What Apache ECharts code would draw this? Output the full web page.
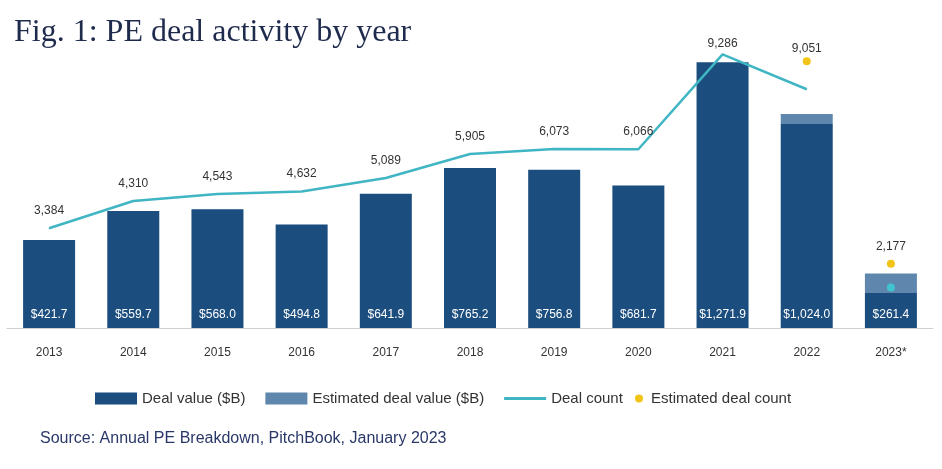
<!DOCTYPE html>
<html><head><meta charset="utf-8">
<script src="https://cdn.jsdelivr.net/npm/echarts@6/dist/echarts.min.js"></script>
<style>html,body{margin:0;padding:0;background:#fff;}#c{width:942px;height:469px;}</style>
</head><body><div id="c"></div>
<script>
const years = ['2013','2014','2015','2016','2017','2018','2019','2020','2021','2022','2023*'];
const dealValue = [421.7,559.7,568.0,494.8,641.9,765.2,756.8,681.7,1271.9,976,167];
const estDealValue = [0,0,0,0,0,0,0,0,0,48,94.4];
const valueLabels = ['$421.7','$559.7','$568.0','$494.8','$641.9','$765.2','$756.8','$681.7','$1,271.9','$1,024.0','$261.4'];
const dealCount = [3384,4310,4543,4632,5089,5905,6073,6066,9286,8100,null];
const partialCount = [null,null,null,null,null,null,null,null,null,null,1370];
const estDealCount = [null,null,null,null,null,null,null,null,null,9051,2177];

const SANS = "'Liberation Sans',Arial,sans-serif";
const TEAL = '#40b5c4';
const chart = echarts.init(document.getElementById('c'));
const fmt = v => Number(v).toLocaleString('en-US');

chart.setOption({
  backgroundColor: '#fff',
  animation: false,
  title: {
    text: 'Fig. 1: PE deal activity by year',
    left: 9, top: 12,
    textStyle: {fontFamily: "'Liberation Serif','DejaVu Serif',serif", fontWeight: 'normal', fontSize: 32, color: '#1f2b4d'}
  },
  graphic: [{
    type: 'text', left: 40, top: 431,
    style: {text: 'Source: Annual PE Breakdown, PitchBook, January 2023', fill: '#2a3868', font: "16px " + SANS}
  }],
  legend: [{
    left: 90, top: 386, itemWidth: 42, itemHeight: 12, itemGap: 20,
    textStyle: {fontFamily: SANS, fontSize: 15, color: '#333'},
    data: [{name: 'Deal value ($B)', icon: 'rect'}, {name: 'Estimated deal value ($B)', icon: 'rect'},
      {name: 'Deal count', icon: 'path://M0,0 L42,0 L42,3 L0,3 Z', itemStyle: {color: TEAL}}]
  }, {
    left: 630, top: 386, itemWidth: 14, itemHeight: 8, itemGap: 20,
    textStyle: {fontFamily: SANS, fontSize: 15, color: '#333'},
    data: [{name: 'Estimated deal count', icon: 'circle'}]
  }],
  grid: {left: 7, right: 9, top: 48, bottom: 141},
  xAxis: {
    type: 'category', data: years,
    axisLine: {lineStyle: {color: '#cfcfcf', width: 1}},
    axisTick: {show: false},
    axisLabel: {margin: 19, fontFamily: SANS, fontSize: 12, color: '#333'}
  },
  yAxis: [
    {type: 'value', min: 0, max: 1340, show: false, splitLine: {show: false}},
    {type: 'value', min: 0, max: 9500, show: false, splitLine: {show: false}}
  ],
  series: [
    {
      name: 'Deal value ($B)', type: 'bar', stack: 'v', barWidth: 52,
      data: dealValue,
      itemStyle: {color: '#1b4d7e'},
      label: {show: true, position: 'insideBottom', distance: 7, color: '#fff',
        fontFamily: SANS, fontSize: 12, formatter: p => valueLabels[p.dataIndex]}
    },
    {
      name: 'Estimated deal value ($B)', type: 'bar', stack: 'v', barWidth: 52,
      data: estDealValue,
      itemStyle: {color: '#5f87ad'}
    },
    {
      name: 'Deal count', type: 'line', yAxisIndex: 1, symbol: 'circle', symbolSize: 1, showSymbol: true,
      data: dealCount.map((v, i) => i === 8 ? {value: v, label: {distance: 4}} : v),
      lineStyle: {color: TEAL, width: 2.5},
      itemStyle: {color: TEAL},
      label: {show: true, position: 'top', distance: 11, color: '#333', fontFamily: SANS, fontSize: 12,
        formatter: p => p.dataIndex === 9 ? '' : fmt(p.value)}
    },
    {
      name: 'Deal count partial', type: 'scatter', yAxisIndex: 1, symbolSize: 8,
      data: partialCount, itemStyle: {color: '#40c4cf', opacity: 1}
    },
    {
      name: 'Estimated deal count', type: 'scatter', yAxisIndex: 1, symbolSize: 8,
      data: estDealCount.map((v, i) => v === null ? null : {value: v, label: {distance: i === 9 ? 3 : 7}}),
      itemStyle: {color: '#f2c417', opacity: 1},
      label: {show: true, position: 'top', color: '#333', fontFamily: SANS, fontSize: 12,
        formatter: p => fmt(Array.isArray(p.value) ? p.value[1] : p.value)}
    }
  ]
});
</script></body></html>
